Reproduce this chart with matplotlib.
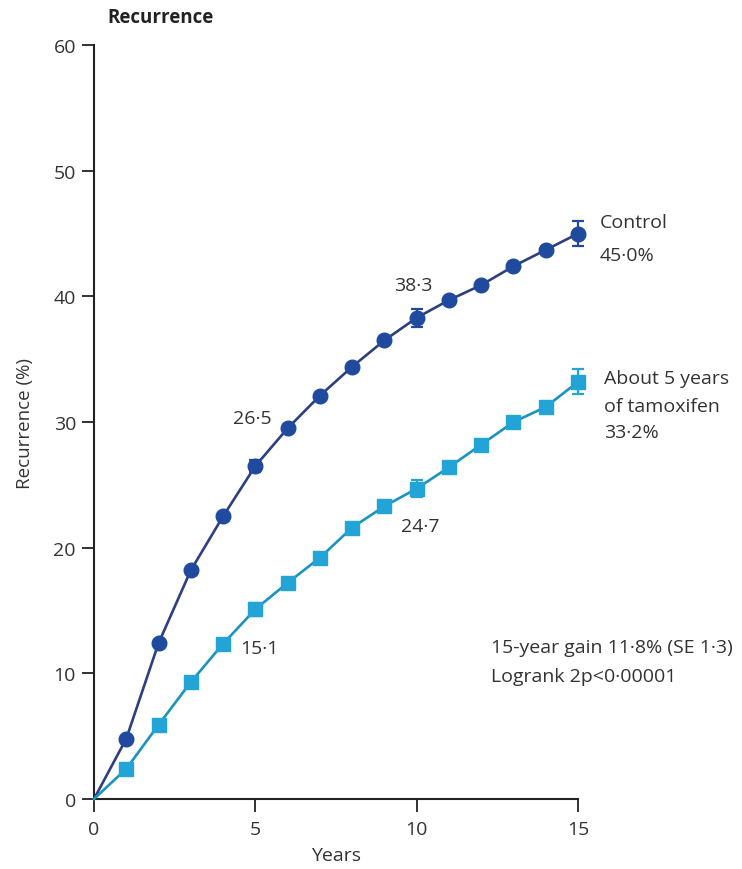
import numpy as np
import matplotlib
matplotlib.use("Agg")
import matplotlib.pyplot as plt

# === Data ===
years = [0, 1, 2, 3, 4, 5, 6, 7, 8, 9, 10, 11, 12, 13, 14, 15]
control = [0, 4.8, 12.4, 18.2, 22.5, 26.5, 29.5, 32.1, 34.4, 36.5, 38.3, 39.7, 40.9, 42.4, 43.7, 45.0]
tamoxifen = [0, 2.4, 5.9, 9.3, 12.35, 15.1, 17.2, 19.2, 21.6, 23.3, 24.7, 26.4, 28.2, 30.0, 31.2, 33.2]

# standard errors shown at 5, 10 and 15 years
se_years = [5, 10, 15]
control_se = [0.5, 0.7, 1.0]
tamoxifen_se = [0.5, 0.7, 1.0]

x_ticks = [0, 5, 10, 15]
y_ticks = [0, 10, 20, 30, 40, 50, 60]

plt.rcParams['font.family'] = ['Open Sans', 'DejaVu Sans']

dark_line = '#2c3f80'
dark_marker = '#1f4a9e'
light_line = '#1a94bf'
light_marker = '#22a4d6'
text_col = '#333333'
fs = 14

fig = plt.figure(figsize=(7.42, 8.70), dpi=100)
ax = fig.add_axes([0.1267, 0.0805, 0.6523, 0.8665])

# === Curves (line from origin, markers from year 1) ===
ax.plot(years, control, color=dark_line, linewidth=1.9, marker='o', markersize=10.5,
        markerfacecolor=dark_marker, markeredgecolor=dark_marker, markevery=list(range(1, 16)),
        clip_on=False, zorder=3)
ax.plot(years, tamoxifen, color=light_line, linewidth=1.9, marker='s', markersize=9.5,
        markerfacecolor=light_marker, markeredgecolor=light_marker, markevery=list(range(1, 16)),
        clip_on=False, zorder=3)

# === Error bars at 5, 10, 15 years ===
ax.errorbar(se_years, [control[y] for y in se_years], yerr=control_se, fmt='none',
            ecolor=dark_marker, elinewidth=1.6, capsize=4, capthick=1.6, clip_on=False, zorder=4)
ax.errorbar(se_years, [tamoxifen[y] for y in se_years], yerr=tamoxifen_se, fmt='none',
            ecolor=light_marker, elinewidth=1.6, capsize=4, capthick=1.6, clip_on=False, zorder=4)

# === Axes styling ===
ax.set_xlim(0, 15)
ax.set_ylim(0, 60)
ax.set_xticks(x_ticks)
ax.set_yticks(y_ticks)
for side in ['top', 'right']:
    ax.spines[side].set_visible(False)
for side in ['left', 'bottom']:
    ax.spines[side].set_linewidth(1.5)
    ax.spines[side].set_color('#222222')
ax.tick_params(direction='out', length=9, width=1.3, colors='#222222',
               labelsize=fs, labelcolor=text_col, pad=4)
ax.tick_params(axis='x', pad=6)

ax.set_xlabel('Years', fontsize=fs, color=text_col, labelpad=6)
ax.set_ylabel('Recurrence (%)', fontsize=13.5, color=text_col, labelpad=14)
fig.text(107 / 742, 1 - 18 / 870, 'Recurrence', fontsize=13.5, fontweight='bold',
         color='#222222', ha='left', va='center')

# === Value annotations ===
ax.text(4.9, 30.3, '26·5', fontsize=fs, color=text_col, ha='center', va='center')
ax.text(9.88, 40.9, '38·3', fontsize=fs, color=text_col, ha='center', va='center')
ax.text(4.52, 12.0, '15·1', fontsize=fs, color=text_col, ha='left', va='center')
ax.text(10.1, 21.75, '24·7', fontsize=fs, color=text_col, ha='center', va='center')

# === Series labels at right ===
ax.text(15.67, 45.9, 'Control', fontsize=fs, color=text_col, ha='left', va='center', clip_on=False)
ax.text(15.67, 43.3, '45·0%', fontsize=fs, color=text_col, ha='left', va='center', clip_on=False)
ax.text(15.8, 33.5, 'About 5 years', fontsize=fs, color=text_col, ha='left', va='center', clip_on=False)
ax.text(15.8, 31.3, 'of tamoxifen', fontsize=fs, color=text_col, ha='left', va='center', clip_on=False)
ax.text(15.8, 29.2, '33·2%', fontsize=fs, color=text_col, ha='left', va='center', clip_on=False)

# === Summary statistics ===
ax.text(12.3, 12.1, '15-year gain 11·8% (SE 1·3)', fontsize=fs, color=text_col,
        ha='left', va='center', clip_on=False)
ax.text(12.3, 9.8, 'Logrank 2p<0·00001', fontsize=fs, color=text_col,
        ha='left', va='center', clip_on=False)

fig.savefig('out.png', dpi=100)
